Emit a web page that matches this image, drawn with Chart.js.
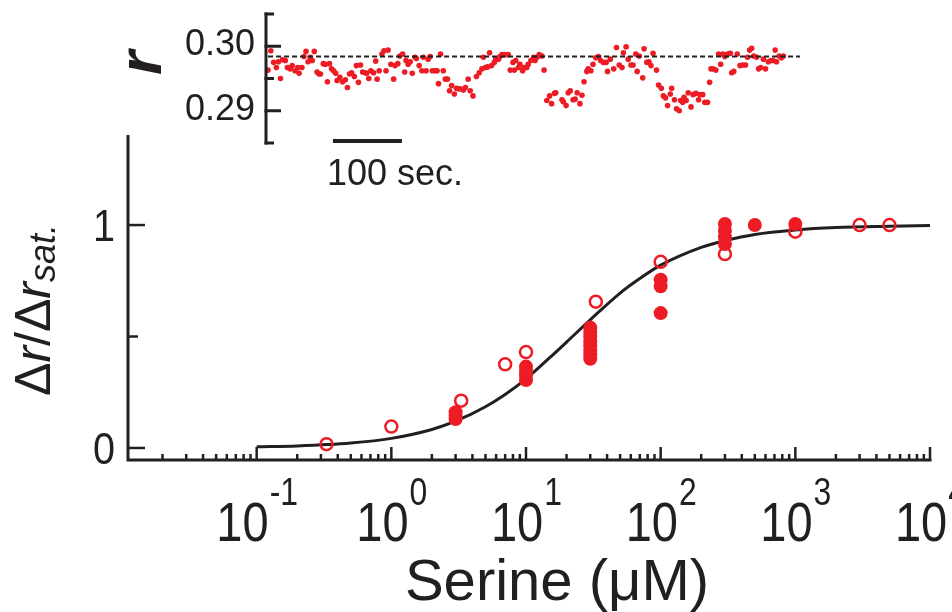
<!DOCTYPE html>
<html>
<head>
<meta charset="utf-8">
<script src="https://cdn.jsdelivr.net/npm/chart.js@4.4.1/dist/chart.umd.min.js"></script>
<style>
  html, body { margin: 0; padding: 0; background: #fff; }
  #wrap { position: relative; width: 952px; height: 612px; overflow: hidden; }
  #wrap canvas { position: absolute; left: 0; top: 0; }
</style>
</head>
<body>
<div id="wrap">
  <canvas id="mainChart" width="952" height="612"></canvas>
  <canvas id="insetChart" width="952" height="612"></canvas>
</div>
<script>
// dose-response points (serine in uM, normalised response)
const filledX = [3, 3, 3, 10, 10, 10, 10, 30, 30, 30, 30, 30, 30, 30, 30, 100, 100, 100, 300, 300, 300, 300, 500, 1000];
const filledY = [0.13, 0.145, 0.16, 0.365, 0.345, 0.325, 0.305, 0.54, 0.52, 0.50, 0.48, 0.46, 0.44, 0.42, 0.40, 0.755, 0.725, 0.605, 1.005, 0.975, 0.945, 0.915, 1.0, 1.005];
const openX = [0.33, 1, 3.3, 7, 10, 33, 100, 300, 1000, 3000, 5000];
const openY = [0.017, 0.096, 0.212, 0.375, 0.43, 0.656, 0.835, 0.87, 0.97, 1.0, 1.0];

// fitted curve
const fitX = [0.1, 0.2, 0.5, 1, 2, 3, 5, 7, 10, 15, 20, 30, 50, 70, 100, 200, 300, 500, 1000, 2000, 5000, 10000];
const fitY = [0.005, 0.009, 0.022, 0.043, 0.083, 0.12, 0.185, 0.24, 0.31, 0.405, 0.475, 0.575, 0.695, 0.76, 0.82, 0.90, 0.93, 0.958, 0.978, 0.989, 0.995, 0.998];

const xTickExps = ['-1', '0', '1', '2', '3', '4'];
const yTicks = [0, 0.5, 1];
const yTickLabels = ['0', '', '1'];

// inset trace: time (s) and anisotropy r
const traceT = [
  0, 4, 8, 12, 15, 18, 21, 25, 28, 32,
  35, 39, 43, 45, 49, 52, 55, 58, 61, 64,
  67, 71, 74, 76, 80, 83, 86, 89, 92, 95,
  98, 100, 104, 108, 112, 115, 118, 121, 125, 128,
  131, 134, 137, 141, 143, 146, 149, 153, 156, 158,
  161, 165, 168, 171, 174, 178, 182, 184, 188, 191,
  195, 198, 200, 203, 206, 209, 213, 215, 219, 223,
  225, 229, 232, 235, 238, 242, 245, 247, 250, 254,
  257, 260, 263, 266, 270, 273, 276, 279, 283, 286,
  290, 293, 297, 302, 306, 310, 312, 315, 318, 321,
  324, 328, 330, 334, 336, 339, 343, 348, 351, 355,
  357, 359, 363, 365, 369, 371, 375, 377, 381, 385,
  387, 390, 393, 397, 400, 404, 408, 411, 415, 417,
  426, 428, 432, 435, 438, 442, 445, 448, 452, 455,
  458, 462, 464, 468, 471, 475, 479, 482, 486, 490,
  492, 496, 501, 505, 509, 513, 515, 519, 522, 526,
  529, 533, 535, 538, 543, 545, 549, 552, 555, 558,
  563, 566, 570, 573, 576, 579, 583, 585, 589, 592,
  596, 598, 601, 603, 606, 609, 613, 616, 620, 624,
  626, 630, 633, 637, 640, 642, 645, 649, 653, 656,
  659, 662, 666, 670, 672, 675, 680, 684, 688, 692,
  695, 698, 701, 704, 708, 711, 714, 718, 721, 725,
  729, 732, 735, 737, 741, 744, 747
];
const traceR = [
  .2963, .2993, .2975, .2967, .2976, .2950, .2979, .2978, .2967, .2965,
  .2970, .2962, .2967, .2958, .2967, .2984, .2992, .2976, .2983, .2978,
  .2992, .2960, .2957, .2957, .2973, .2972, .2945, .2973, .2965, .2962,
  .2958, .2947, .2952, .2945, .2948, .2936, .2957, .2959, .2953, .2970,
  .2944, .2971, .2960, .2959, .2958, .2950, .2962, .2959, .2977, .2949,
  .2962, .2988, .2993, .2962, .2994, .2972, .2949, .2970, .2973, .2985,
  .2988, .2960, .2978, .2972, .2976, .2958, .2983, .2981, .2970, .2962,
  .2983, .2962, .2980, .2984, .2962, .2962, .2962, .2942, .2988, .2962,
  .2949, .2949, .2931, .2939, .2926, .2935, .2934, .2934, .2932, .2936,
  .2949, .2931, .2923, .2953, .2959, .2965, .2983, .2967, .2968, .2990,
  .2970, .2975, .2980, .2980, .2984, .2987, .2987, .2987, .2963, .2975,
  .2963, .2978, .2967, .2972, .2962, .2967, .2967, .2972, .2978, .2983,
  .2978, .2983, .2987, .2985, .2963, .2916, .2923, .2911, .2927, .2928,
  .2917, .2914, .2908, .2928, .2931, .2917, .2918, .2928, .2911, .2924,
  .2945, .2961, .2965, .2962, .2972, .2982, .2984, .2978, .2975, .2975,
  .2961, .2980, .2965, .2998, .2971, .2967, .2990, .2999, .2980, .2971,
  .2971, .2988, .2961, .2985, .2951, .2996, .2975, .2976, .2970, .2989,
  .2963, .2940, .2935, .2923, .2920, .2908, .2926, .2935, .2917, .2903,
  .2900, .2916, .2913, .2921, .2916, .2928, .2906, .2925, .2927, .2917,
  .2925, .2925, .2913, .2913, .2944, .2965, .2965, .2963, .2988, .2972,
  .2988, .2984, .2988, .2989, .2959, .2961, .2988, .2970, .2971, .2971,
  .2983, .2994, .2997, .2985, .2983, .2965, .2967, .2980, .2965, .2976,
  .2978, .2978, .2994, .2976, .2985, .2982, .2985
];
const baselineT = [0, 771];
const baselineR = 0.2984;
const insetTicks = [0.285, 0.29, 0.295, 0.30, 0.305];
const insetTickLabels = ['', '0.29', '', '0.30', ''];
const scaleBarStart = 94;   // s
const scaleBarLength = 100; // s

const FONT = '"Liberation Sans", Arial, Helvetica, sans-serif';
const INK = '#231f20';
const RED = '#ed1c24';
const SQUEEZE = 0.84; // tick numbers in the figure are slightly condensed

function pts(xs, ys) {
    return xs.map((x, i) => ({ x: x, y: ys[i] }));
}

// draw text squeezed horizontally, anchored left at (x, y)
function squeezedText(ctx, str, x, y, sx) {
    ctx.save();
    ctx.translate(x, y);
    ctx.scale(sx, 1);
    ctx.fillText(str, 0, 0);
    ctx.restore();
}

// axes, ticks and labels of the dose-response panel
const mainAxes = {
    id: 'mainAxes',
    afterDraw(chart) {
        const ctx = chart.ctx;
        const a = chart.chartArea;
        const x = chart.scales.x, y = chart.scales.y;
        ctx.save();
        ctx.strokeStyle = INK;
        ctx.fillStyle = INK;

        ctx.lineWidth = 3;
        ctx.beginPath();
        ctx.moveTo(a.left, a.top);
        ctx.lineTo(a.left, a.bottom);
        ctx.lineTo(x.getPixelForValue(1e4) + 1.5, a.bottom);
        ctx.stroke();

        ctx.lineWidth = 2.5;
        yTicks.forEach(v => {
            const py = y.getPixelForValue(v);
            const len = v === 0.5 ? 10 : 17;
            ctx.beginPath();
            ctx.moveTo(a.left, py);
            ctx.lineTo(a.left + len, py);
            ctx.stroke();
        });

        for (let e = -2; e <= 4; e++) {
            for (let m = 1; m <= 9; m++) {
                const v = m * Math.pow(10, e);
                if (v < x.min || v > x.max + 1e-6) continue;
                const px = x.getPixelForValue(v);
                const len = m === 1 ? 13 : 6;
                ctx.beginPath();
                ctx.moveTo(px, a.bottom);
                ctx.lineTo(px, a.bottom - len);
                ctx.stroke();
            }
        }

        // y tick labels
        ctx.font = '45px ' + FONT;
        ctx.textAlign = 'left';
        ctx.textBaseline = 'alphabetic';
        yTicks.forEach((v, i) => {
            const s = yTickLabels[i];
            if (!s) return;
            const w = ctx.measureText(s).width * 0.88;
            squeezedText(ctx, s, 115 - w, y.getPixelForValue(v) + 16, 0.88);
        });

        // x tick labels 10^n
        xTickExps.forEach(e => {
            const px = x.getPixelForValue(Math.pow(10, Number(e)));
            ctx.font = '56px ' + FONT;
            const wBase = ctx.measureText('10').width * SQUEEZE;
            ctx.font = '38px ' + FONT;
            const wExp = ctx.measureText(e).width * SQUEEZE;
            const start = px - (wBase + wExp) / 2;
            ctx.font = '56px ' + FONT;
            squeezedText(ctx, '10', start, 541, SQUEEZE);
            ctx.font = '38px ' + FONT;
            squeezedText(ctx, e, start + wBase + 1, 505, SQUEEZE);
        });

        // x title
        ctx.font = '58px ' + FONT;
        ctx.textAlign = 'center';
        ctx.fillText('Serine (\u03bcM)', 557, 600);

        // y title: Δr/Δr_sat.
        const parts = [
            ['\u0394', '', 50, 0], ['r', 'italic ', 50, 0], ['/', '', 50, 0],
            ['\u0394', '', 50, 0], ['r', 'italic ', 50, 0], ['sat.', 'italic ', 36, 5]
        ];
        let total = 0;
        parts.forEach(p => {
            ctx.font = p[1] + p[2] + 'px ' + FONT;
            total += ctx.measureText(p[0]).width;
        });
        ctx.translate(50, 310);
        ctx.rotate(-Math.PI / 2);
        ctx.textAlign = 'left';
        let cx = -total / 2;
        parts.forEach(p => {
            ctx.font = p[1] + p[2] + 'px ' + FONT;
            ctx.fillText(p[0], cx, p[3]);
            cx += ctx.measureText(p[0]).width;
        });
        ctx.restore();
    }
};

// bracket axis, scale bar and labels of the inset trace
const insetAxes = {
    id: 'insetAxes',
    afterDraw(chart) {
        const ctx = chart.ctx;
        const a = chart.chartArea;
        const x = chart.scales.x, y = chart.scales.y;
        ctx.save();
        ctx.strokeStyle = INK;
        ctx.fillStyle = INK;
        ctx.lineWidth = 3;
        ctx.lineCap = 'butt';

        const yTop = y.getPixelForValue(0.305), yBot = y.getPixelForValue(0.285);
        ctx.beginPath();
        ctx.moveTo(a.left, yTop - 1.5);
        ctx.lineTo(a.left, yBot + 1.5);
        ctx.stroke();
        insetTicks.forEach((v, i) => {
            const py = y.getPixelForValue(v);
            const len = insetTickLabels[i] ? 15 : 8;
            ctx.beginPath();
            ctx.moveTo(a.left - 1.5, py);
            ctx.lineTo(a.left + len, py);
            ctx.stroke();
        });

        ctx.font = '36px ' + FONT;
        ctx.textAlign = 'right';
        insetTicks.forEach((v, i) => {
            if (!insetTickLabels[i]) return;
            ctx.fillText(insetTickLabels[i], 255, y.getPixelForValue(v) + 9);
        });

        // 100 s scale bar
        ctx.lineWidth = 4;
        ctx.beginPath();
        ctx.moveTo(x.getPixelForValue(scaleBarStart), 141);
        ctx.lineTo(x.getPixelForValue(scaleBarStart + scaleBarLength), 141);
        ctx.stroke();
        ctx.textAlign = 'center';
        ctx.fillText('100 sec.', 395, 185);

        // axis title r
        ctx.translate(161, 75);
        ctx.rotate(-Math.PI / 2);
        ctx.textAlign = 'left';
        ctx.font = 'italic bold 62px ' + FONT;
        ctx.fillText('r', 0, 0);
        ctx.restore();
    }
};

new Chart(document.getElementById('mainChart'), {
    type: 'scatter',
    data: {
        datasets: [
            {
                type: 'line',
                data: pts(fitX, fitY),
                borderColor: INK,
                borderWidth: 3,
                pointRadius: 0,
                fill: false,
                cubicInterpolationMode: 'monotone',
                order: 3
            },
            {
                data: pts(filledX, filledY),
                pointRadius: 7,
                pointBackgroundColor: RED,
                pointBorderColor: RED,
                pointBorderWidth: 0,
                order: 2
            },
            {
                data: pts(openX, openY),
                pointRadius: 6,
                pointBackgroundColor: 'rgba(255,255,255,0)',
                pointBorderColor: RED,
                pointBorderWidth: 2.5,
                order: 1
            }
        ]
    },
    options: {
        responsive: false,
        animation: false,
        devicePixelRatio: 1,
        layout: { padding: { left: 128, right: 22, top: 135, bottom: 152 } },
        plugins: { legend: { display: false }, tooltip: { enabled: false } },
        scales: {
            x: { type: 'logarithmic', min: 0.01108, max: 10000, display: false },
            y: { type: 'linear', min: -0.054, max: 1.404, display: false }
        }
    },
    plugins: [mainAxes]
});

new Chart(document.getElementById('insetChart'), {
    type: 'scatter',
    data: {
        datasets: [
            {
                type: 'line',
                data: pts(baselineT, [baselineR, baselineR]),
                borderColor: INK,
                borderWidth: 2,
                borderDash: [5, 3],
                pointRadius: 0,
                fill: false,
                order: 1
            },
            {
                data: pts(traceT, traceR),
                pointRadius: 2.8,
                pointBackgroundColor: RED,
                pointBorderColor: RED,
                pointBorderWidth: 0,
                order: 2
            }
        ]
    },
    options: {
        responsive: false,
        animation: false,
        devicePixelRatio: 1,
        layout: { padding: { left: 266, right: 152, top: 14, bottom: 469 } },
        plugins: { legend: { display: false }, tooltip: { enabled: false } },
        scales: {
            x: { type: 'linear', min: -3, max: 771, display: false },
            y: { type: 'linear', min: 0.285, max: 0.305, display: false }
        }
    },
    plugins: [insetAxes]
});
</script>
</body>
</html>
